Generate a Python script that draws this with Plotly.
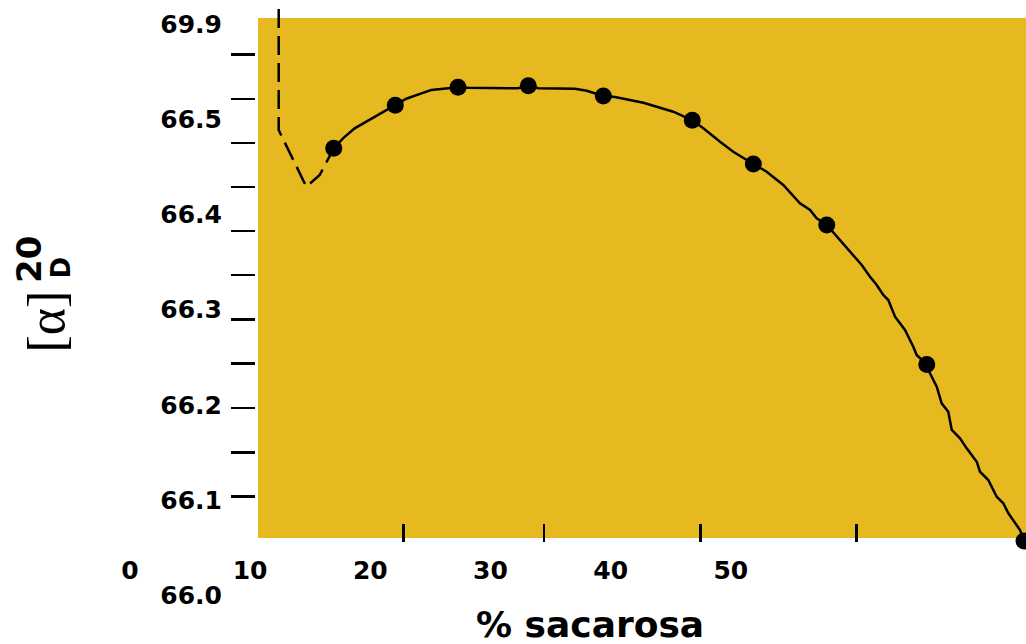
import plotly.graph_objects as go

# ---- data (x = % sacarosa, y = [alpha]D20) ----
dash_x = [12.38, 12.38, 14.68, 15.79, 16.96]
dash_y = [66.6161, 66.4889, 66.4293, 66.4416, 66.4697]

curve_x = [16.96, 17.73, 18.70, 19.67, 20.64, 21.33, 22.08, 23.00, 24.25, 25.08,
           27.30, 28.13, 32.29, 33.15, 33.98, 37.03, 38.01, 39.39, 40.36, 41.47,
           42.72, 43.83, 45.21, 46.79, 47.71, 49.10, 50.20, 51.87, 52.98, 54.36,
           55.34, 55.75, 56.59, 57.14, 57.98, 58.81, 59.64, 60.89, 61.58, 62.14,
           62.68, 63.10, 63.66, 64.49, 65.18, 65.46, 66.30, 66.57, 67.13, 67.54,
           68.09, 68.38, 69.07, 69.62, 70.46, 70.73, 71.42, 72.12, 72.67, 73.09,
           74.06, 74.39]
curve_y = [66.4697, 66.4802, 66.4907, 66.4977, 66.5047, 66.5100, 66.5149, 66.5218, 66.5275, 66.5310,
           66.5338, 66.5334, 66.5328, 66.5355, 66.5328, 66.5324, 66.5302, 66.5247, 66.5236, 66.5205,
           66.5176, 66.5134, 66.5082, 66.4991, 66.4907, 66.4766, 66.4661, 66.4532, 66.4451, 66.4311,
           66.4171, 66.4119, 66.4048, 66.3961, 66.3891, 66.3768, 66.3646, 66.3470, 66.3347, 66.3260,
           66.3155, 66.3102, 66.2927, 66.2787, 66.2611, 66.2524, 66.2424, 66.2332, 66.2191, 66.2016,
           66.1928, 66.1736, 66.1648, 66.1543, 66.1402, 66.1297, 66.1210, 66.1034, 66.0965, 66.0860,
           66.0684, 66.0569]

point_x = [16.96, 22.08, 27.30, 33.15, 39.39, 46.79, 51.87, 57.98, 66.30, 74.39]
point_y = [66.4697, 66.5149, 66.5338, 66.5355, 66.5247, 66.4991, 66.4532, 66.3891, 66.2424, 66.0569]

ytick_marks = [66.5683, 66.5217, 66.4755, 66.4290, 66.3828, 66.3363, 66.2897,
               66.2433, 66.1965, 66.1501, 66.1034]
ylabel_vals = [66.0, 66.1, 66.2, 66.3, 66.4, 66.5, 66.6]
ylabel_text = ["66.0", "66.1", "66.2", "66.3", "66.4", "66.5", "69.9"]

xtick_marks = [22.75, 34.45, 47.46, 60.45]
xlabel_vals = [0, 10, 20, 30, 40, 50]
xlabel_text = ["0", "10", "20", "30", "40", "50"]

# ---- figure ----
W, H = 1026, 644
XR = [-10.808, 74.557]
YR = [65.94859, 66.62560]
YELLOW = "#E5B91F"
BOLD = dict(family="DejaVu Sans", size=25, color="black", weight="bold")

fig = go.Figure()
fig.add_trace(go.Scatter(x=dash_x, y=dash_y, mode="lines",
                         line=dict(color="black", width=2.5, dash="19px,8px"),
                         hoverinfo="skip", showlegend=False, cliponaxis=False))
fig.add_trace(go.Scatter(x=curve_x, y=curve_y, mode="lines",
                         line=dict(color="black", width=2.5),
                         hoverinfo="skip", showlegend=False, cliponaxis=False))
fig.add_trace(go.Scatter(x=point_x, y=point_y, mode="markers",
                         marker=dict(color="black", size=17, symbol="circle"),
                         hoverinfo="skip", showlegend=False, cliponaxis=False))
# empty trace so that the label axes (x2 / y2) get drawn
fig.add_trace(go.Scatter(x=[None], y=[None], xaxis="x2", yaxis="y2", mode="markers",
                         hoverinfo="skip", showlegend=False))

fig.update_layout(
    width=W, height=H, autosize=False,
    margin=dict(l=0, r=0, t=0, b=0, pad=0),
    paper_bgcolor="white", plot_bgcolor="rgba(0,0,0,0)",
    showlegend=False,
    xaxis=dict(domain=[0, 1], range=XR, anchor="free", position=1 - 542 / H,
               showgrid=False, zeroline=False, showline=False,
               tickmode="array", tickvals=xtick_marks, ticks="inside",
               ticklen=18, tickwidth=2.5, tickcolor="black",
               showticklabels=False, fixedrange=True),
    xaxis2=dict(overlaying="x", range=XR, anchor="free", position=1 - 553 / H,
                showgrid=False, zeroline=False, showline=False,
                tickmode="array", tickvals=xlabel_vals, ticktext=xlabel_text,
                ticks="", tickfont=BOLD, fixedrange=True),
    yaxis=dict(domain=[0, 1], range=YR, anchor="free", position=255 / W,
               showgrid=False, zeroline=False, showline=False,
               tickmode="array", tickvals=ytick_marks, ticks="outside",
               ticklen=24, tickwidth=2.5, tickcolor="black",
               showticklabels=False, fixedrange=True),
    yaxis2=dict(overlaying="y", range=YR, anchor="free", position=222 / W,
                showgrid=False, zeroline=False, showline=False,
                tickmode="array", tickvals=ylabel_vals, ticktext=ylabel_text,
                ticks="", tickfont=BOLD, fixedrange=True),
    shapes=[dict(type="rect", xref="paper", yref="paper", layer="below",
                 x0=258 / W, x1=1.0, y0=1 - 538 / H, y1=1 - 18 / H,
                 fillcolor=YELLOW, line=dict(width=0))],
    annotations=[
        dict(text="[α]", xref="paper", yref="paper", x=46 / W, y=1 - 321.5 / H,
             xanchor="center", yanchor="middle", textangle=-90, showarrow=False,
             font=dict(family="Liberation Serif", size=52, color="black")),
        dict(text="20", xref="paper", yref="paper", x=29 / W, y=1 - 260 / H,
             xanchor="center", yanchor="middle", textangle=-90, showarrow=False,
             font=dict(family="DejaVu Sans", size=34, color="black", weight="bold")),
        dict(text="D", xref="paper", yref="paper", x=60 / W, y=1 - 267.5 / H,
             xanchor="center", yanchor="middle", textangle=-90, showarrow=False,
             font=dict(family="DejaVu Sans", size=26, color="black", weight="bold")),
        dict(text="% sacarosa", xref="paper", yref="paper", x=590 / W, y=1 - 624 / H,
             xanchor="center", yanchor="middle", showarrow=False,
             font=dict(family="DejaVu Sans", size=36, color="black", weight="bold")),
    ],
)

fig.write_html("out.html", config={"staticPlot": True},
               post_script="document.body.style.margin='0';document.body.style.overflow='hidden';")
